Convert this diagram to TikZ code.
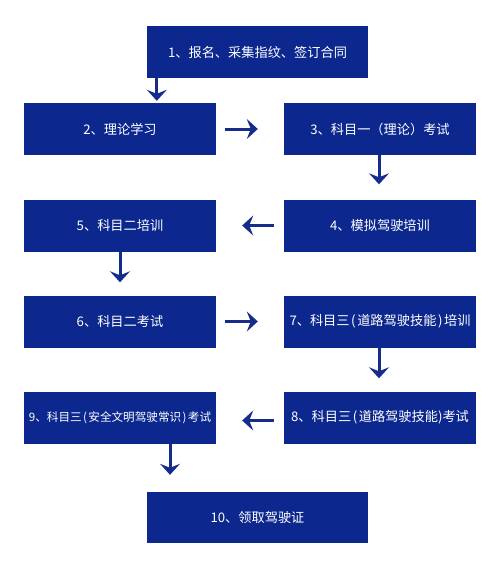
\documentclass[tikz,border=0pt]{standalone}
\usepackage{fontspec}
\setmainfont{Noto Sans CJK SC}
\usetikzlibrary{arrows.meta}
\definecolor{boxblue}{RGB}{12,40,142}
\definecolor{arrblue}{RGB}{22,44,140}
\newcommand{\lpar}{\hspace{0.12em}(\hspace{0.12em}}
\newcommand{\rpar}{\hspace{0.12em})\hspace{0.12em}}
\tikzset{
  stepbox/.style={rectangle, fill=boxblue, text=white, minimum width=192pt, minimum height=52pt, inner sep=0pt, font=\fontsize{13.2pt}{15pt}\selectfont},
  widebox/.style={stepbox, minimum width=221pt},
  arr/.style={draw=arrblue, line width=3pt, -{Stealth[width=20pt,length=11pt,inset=4pt]}}
}
\begin{document}
\begin{tikzpicture}[x=1pt,y=-1pt]
\useasboundingbox (0,0) rectangle (500,570);
\node[widebox] (b1) at (257.5,52) {1、报名、采集指纹、签订合同};
\node[stepbox] (b2) at (120,129) {2、理论学习};
\node[stepbox] (b3) at (380,129) {3、科目一（理论）考试};
\node[stepbox] (b4) at (380,225.5) {4、模拟驾驶培训};
\node[stepbox] (b5) at (120,225.5) {5、科目二培训};
\node[stepbox] (b6) at (120,321.5) {6、科目二考试};
\node[stepbox] (b7) at (380,321.5) {7、科目三\lpar 道路驾驶技能\rpar 培训};
\node[stepbox] (b8) at (380,417.5) {8、科目三\lpar 道路驾驶技能)考试};
\node[stepbox, font=\fontsize{11.6pt}{14pt}\selectfont] (b9) at (120,417.5) {9、科目三\lpar 安全文明驾驶常识\rpar 考试};
\node[widebox, minimum height=51pt] (b10) at (257.5,517.5) {10、领取驾驶证};
% connectors
\draw[arr] ([xshift=10pt]b1.south west) -- ([xshift=10pt,yshift=2pt]b1.south west |- b2.north);
\draw[arr] ([xshift=9pt]b2.east) -- ([xshift=-26pt]b3.west);
\draw[arr] ([xshift=-1pt]b3.south) -- ([xshift=-1pt,yshift=15pt]b4.north);
\draw[arr] ([xshift=-10pt]b4.west) -- ([xshift=26pt]b5.east);
\draw[arr] (b5.south) -- ([yshift=13pt]b6.north);
\draw[arr] ([xshift=9pt]b6.east) -- ([xshift=-26pt]b7.west);
\draw[arr] ([xshift=-1pt]b7.south) -- ([xshift=-1pt,yshift=13pt]b8.north);
\draw[arr] ([xshift=-10pt,yshift=-3pt]b8.west) -- ([xshift=26pt,yshift=-3pt]b9.east);
\draw[arr] ([xshift=50pt]b9.south) -- ([xshift=-87.5pt,yshift=17pt]b10.north);
\end{tikzpicture}
\end{document}
